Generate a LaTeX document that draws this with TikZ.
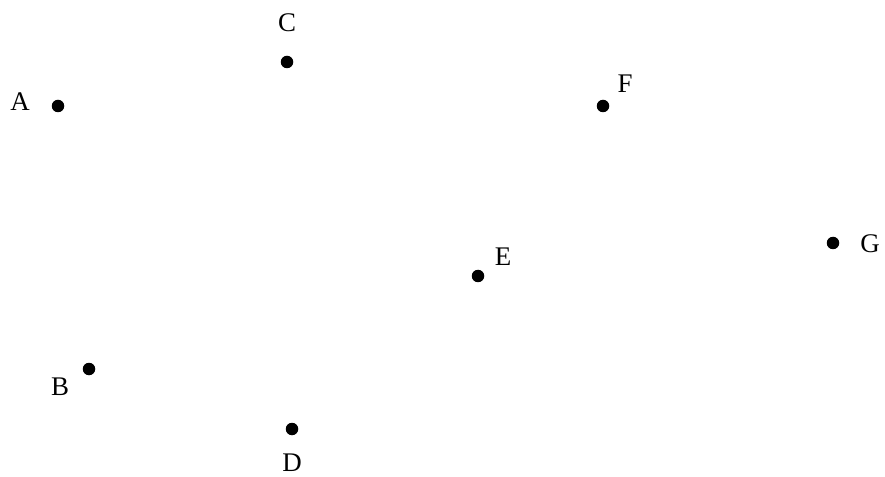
\documentclass[tikz,border=0pt]{standalone}
\usepackage{fontspec}
\setmainfont{Liberation Serif}
\begin{document}
\begin{tikzpicture}[x=1bp,y=-1bp,
  pt/.style={circle,fill=black,inner sep=0pt,minimum size=12.5bp},
  lbl/.style={inner sep=0pt,font=\fontsize{27}{31}\selectfont}]
\useasboundingbox (0,0) rectangle (885,477);
\node[pt] (A) at (58,106) {};
\node[pt] (C) at (287,62) {};
\node[pt] (F) at (603,106) {};
\node[pt] (E) at (478,276) {};
\node[pt] (G) at (833,243) {};
\node[pt] (B) at (89,369) {};
\node[pt] (D) at (292,429) {};
\node[lbl] (lA) at (20,102) {A};
\node[lbl] (lC) at (287,23) {C};
\node[lbl] (lF) at (625,84) {F};
\node[lbl] (lE) at (503,257) {E};
\node[lbl] (lG) at (870,244) {G};
\node[lbl] (lB) at (60,387) {B};
\node[lbl] (lD) at (292,463) {D};
\end{tikzpicture}
\end{document}
